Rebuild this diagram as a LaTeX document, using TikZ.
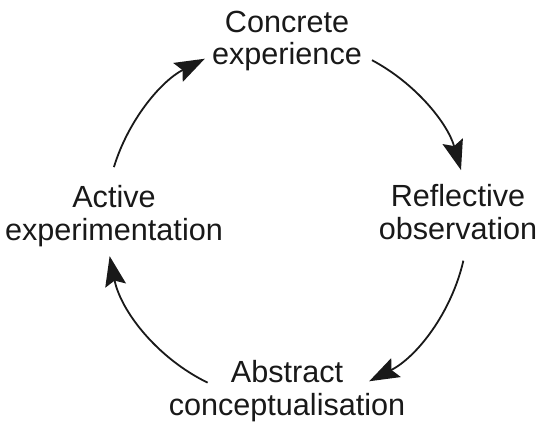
\documentclass[tikz,border=0pt]{standalone}
\usepackage{fontspec}
\setmainfont{Liberation Sans}
\usetikzlibrary{arrows.meta}
\begin{document}
\begin{tikzpicture}[x=1pt,y=1pt,
  stage/.style={align=center,inner sep=0pt,text=black!90,font=\fontsize{30.6}{33}\selectfont},
  cyc/.style={line width=1.8pt,black!90,-{Stealth[length=30pt,width=21pt,inset=5pt]}}]
\useasboundingbox[fill=white] (0,0) rectangle (538,422);
\coordinate (O) at (287,202);
\node[stage] (ce) at (287,381) {Concrete\\experience};
\node[stage] (ro) at (458,209.5) {Reflective\\observation};
\node[stage] (ac) at (287,31.3) {Abstract\\conceptualisation};
\node[stage] (ae) at (114,206.3) {Active\\experimentation};
\coordinate (s1) at ([shift={(62:181)}]O);
\coordinate (s2) at ([shift={(-13:181)}]O);
\coordinate (s3) at ([shift={(244:181)}]O);
\coordinate (s4) at ([shift={(163:181)}]O);
\draw[cyc] (s1) arc[start angle=62,end angle=16,radius=181];
\draw[cyc] (s2) arc[start angle=-13,end angle=-63,radius=181];
\draw[cyc] (s3) arc[start angle=244,end angle=191.5,radius=181];
\draw[cyc] (s4) arc[start angle=163,end angle=117,radius=181];
\end{tikzpicture}
\end{document}
